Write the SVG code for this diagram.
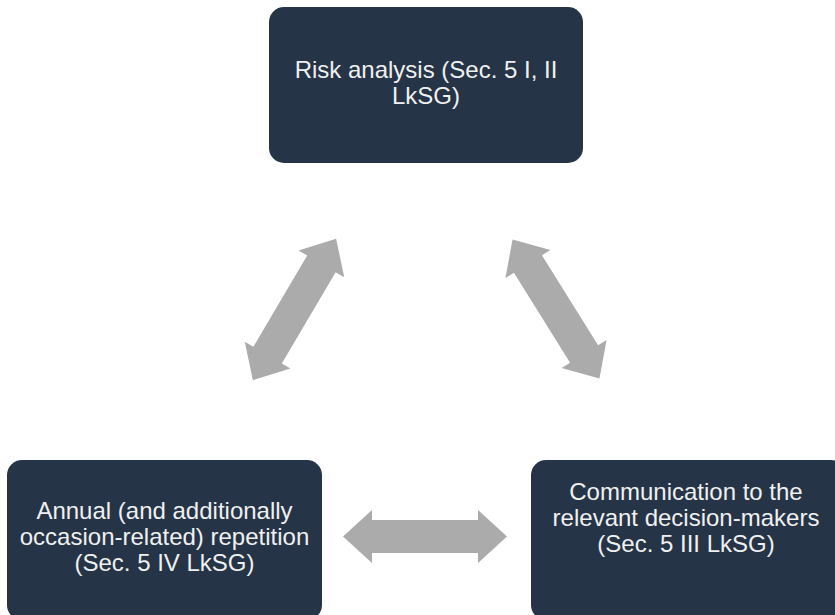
<svg xmlns="http://www.w3.org/2000/svg" width="835" height="615" viewBox="0 0 835 615">
  <style>
    .box { fill: #253446; }
    .lbl { font-family: "Liberation Sans", Arial, sans-serif; font-size: 24px; fill: #f0f0f0; text-anchor: middle; }
    .arr { fill: #ababab; }
  </style>
  <defs>
    <path id="dbl" d="M -82,0 L -53,-26.5 L -53,-16.5 L 53,-16.5 L 53,-26.5 L 82,0 L 53,26.5 L 53,16.5 L -53,16.5 L -53,26.5 Z"/>
  </defs>
  <rect width="835" height="615" fill="#ffffff"/>
  <g id="connectors" class="arr">
    <use href="#dbl" transform="translate(294.5,309.5) rotate(-59.5)"/>
    <use href="#dbl" transform="translate(556,309) rotate(58)"/>
    <use href="#dbl" transform="translate(425,536.5)"/>
  </g>
  <g id="risk-analysis">
    <rect class="box" x="269" y="7" width="314" height="156" rx="15"/>
    <text class="lbl"><tspan x="426" y="78">Risk analysis (Sec. 5 I, II</tspan><tspan x="426" y="104">LkSG)</tspan></text>
  </g>
  <g id="annual-repetition">
    <rect class="box" x="7" y="460" width="315" height="160" rx="15"/>
    <text class="lbl"><tspan x="164.5" y="519">Annual (and additionally</tspan><tspan x="164.5" y="545">occasion-related) repetition</tspan><tspan x="164.5" y="571">(Sec. 5 IV LkSG)</tspan></text>
  </g>
  <g id="communication">
    <rect class="box" x="531" y="460" width="315" height="160" rx="15"/>
    <text class="lbl"><tspan x="686" y="500">Communication to the</tspan><tspan x="686" y="526">relevant decision-makers</tspan><tspan x="686" y="552">(Sec. 5 III LkSG)</tspan></text>
  </g>
</svg>
